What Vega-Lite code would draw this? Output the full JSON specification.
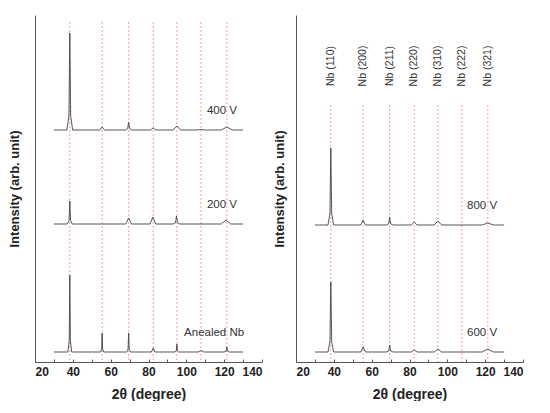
{
  "$schema": "https://vega.github.io/schema/vega-lite/v6.json",
  "padding": {"left": 8, "top": 15, "right": 0, "bottom": 0},
  "spacing": 10,
  "config": {
    "view": {"stroke": null},
    "font": "Liberation Sans",
    "axis": {"grid": false, "domainColor": "#555", "labelColor": "#222", "titleColor": "#222", "minExtent": 0}
  },
  "datasets": {
    "left": [
      {"s": "400 V", "x": 30, "y": 232}, {"s": "400 V", "x": 36.9, "y": 232}, {"s": "400 V", "x": 37.95, "y": 246.5}, {"s": "400 V", "x": 38.4, "y": 329}, {"s": "400 V", "x": 38.85, "y": 246.5}, {"s": "400 V", "x": 39.9, "y": 232},
      {"s": "400 V", "x": 54.3, "y": 232}, {"s": "400 V", "x": 55.5, "y": 235}, {"s": "400 V", "x": 56.7, "y": 232},
      {"s": "400 V", "x": 67.7, "y": 232}, {"s": "400 V", "x": 68.96, "y": 233.2}, {"s": "400 V", "x": 69.5, "y": 240}, {"s": "400 V", "x": 70.04, "y": 233.2}, {"s": "400 V", "x": 71.3, "y": 232},
      {"s": "400 V", "x": 81, "y": 232}, {"s": "400 V", "x": 82.5, "y": 234}, {"s": "400 V", "x": 84, "y": 232},
      {"s": "400 V", "x": 93, "y": 232}, {"s": "400 V", "x": 95, "y": 236}, {"s": "400 V", "x": 97, "y": 232},
      {"s": "400 V", "x": 106, "y": 232}, {"s": "400 V", "x": 107.7, "y": 232.6}, {"s": "400 V", "x": 109.4, "y": 232},
      {"s": "400 V", "x": 118.4, "y": 232}, {"s": "400 V", "x": 121.4, "y": 235}, {"s": "400 V", "x": 124.4, "y": 232}, {"s": "400 V", "x": 130, "y": 232},

      {"s": "200 V", "x": 30, "y": 138}, {"s": "200 V", "x": 37.1, "y": 138}, {"s": "200 V", "x": 38.0, "y": 141.5}, {"s": "200 V", "x": 38.4, "y": 161}, {"s": "200 V", "x": 38.8, "y": 141.5}, {"s": "200 V", "x": 39.7, "y": 138},
      {"s": "200 V", "x": 68, "y": 138}, {"s": "200 V", "x": 69.5, "y": 144}, {"s": "200 V", "x": 71, "y": 138},
      {"s": "200 V", "x": 80.8, "y": 138}, {"s": "200 V", "x": 82.3, "y": 145}, {"s": "200 V", "x": 83.8, "y": 138},
      {"s": "200 V", "x": 93, "y": 138}, {"s": "200 V", "x": 94.26, "y": 139.2}, {"s": "200 V", "x": 94.8, "y": 146}, {"s": "200 V", "x": 95.34, "y": 139.2}, {"s": "200 V", "x": 96.6, "y": 138},
      {"s": "200 V", "x": 118.5, "y": 138}, {"s": "200 V", "x": 121, "y": 142}, {"s": "200 V", "x": 123.5, "y": 138}, {"s": "200 V", "x": 130, "y": 138},

      {"s": "Anealed Nb", "x": 30, "y": 10}, {"s": "Anealed Nb", "x": 37.4, "y": 10}, {"s": "Anealed Nb", "x": 38.1, "y": 21.5}, {"s": "Anealed Nb", "x": 38.4, "y": 87}, {"s": "Anealed Nb", "x": 38.7, "y": 21.5}, {"s": "Anealed Nb", "x": 39.4, "y": 10},
      {"s": "Anealed Nb", "x": 54.7, "y": 10}, {"s": "Anealed Nb", "x": 55.26, "y": 12.9}, {"s": "Anealed Nb", "x": 55.5, "y": 29}, {"s": "Anealed Nb", "x": 55.74, "y": 12.9}, {"s": "Anealed Nb", "x": 56.3, "y": 10},
      {"s": "Anealed Nb", "x": 68.5, "y": 10}, {"s": "Anealed Nb", "x": 69.2, "y": 12.9}, {"s": "Anealed Nb", "x": 69.5, "y": 29}, {"s": "Anealed Nb", "x": 69.8, "y": 12.9}, {"s": "Anealed Nb", "x": 70.5, "y": 10},
      {"s": "Anealed Nb", "x": 81.5, "y": 10}, {"s": "Anealed Nb", "x": 82.5, "y": 14}, {"s": "Anealed Nb", "x": 83.5, "y": 10},
      {"s": "Anealed Nb", "x": 94, "y": 10}, {"s": "Anealed Nb", "x": 94.7, "y": 11.2}, {"s": "Anealed Nb", "x": 95, "y": 18}, {"s": "Anealed Nb", "x": 95.3, "y": 11.2}, {"s": "Anealed Nb", "x": 96, "y": 10},
      {"s": "Anealed Nb", "x": 106.2, "y": 10}, {"s": "Anealed Nb", "x": 107.7, "y": 11.5}, {"s": "Anealed Nb", "x": 109.2, "y": 10},
      {"s": "Anealed Nb", "x": 119.9, "y": 10}, {"s": "Anealed Nb", "x": 120.95, "y": 10.75}, {"s": "Anealed Nb", "x": 121.4, "y": 15}, {"s": "Anealed Nb", "x": 121.85, "y": 10.75}, {"s": "Anealed Nb", "x": 122.9, "y": 10}, {"s": "Anealed Nb", "x": 130, "y": 10}
    ],
    "right": [
      {"s": "800 V", "x": 30, "y": 137}, {"s": "800 V", "x": 36.9, "y": 137}, {"s": "800 V", "x": 37.95, "y": 148.5}, {"s": "800 V", "x": 38.4, "y": 214}, {"s": "800 V", "x": 38.85, "y": 148.5}, {"s": "800 V", "x": 39.9, "y": 137},
      {"s": "800 V", "x": 54.3, "y": 137}, {"s": "800 V", "x": 55.5, "y": 142}, {"s": "800 V", "x": 56.7, "y": 137},
      {"s": "800 V", "x": 67.7, "y": 137}, {"s": "800 V", "x": 68.96, "y": 138.2}, {"s": "800 V", "x": 69.5, "y": 145}, {"s": "800 V", "x": 70.04, "y": 138.2}, {"s": "800 V", "x": 71.3, "y": 137},
      {"s": "800 V", "x": 81, "y": 137}, {"s": "800 V", "x": 82.5, "y": 140}, {"s": "800 V", "x": 84, "y": 137},
      {"s": "800 V", "x": 93, "y": 137}, {"s": "800 V", "x": 95, "y": 141}, {"s": "800 V", "x": 97, "y": 137},
      {"s": "800 V", "x": 118.4, "y": 137}, {"s": "800 V", "x": 121.4, "y": 139}, {"s": "800 V", "x": 124.4, "y": 137}, {"s": "800 V", "x": 130, "y": 137},

      {"s": "600 V", "x": 30, "y": 10}, {"s": "600 V", "x": 36.9, "y": 10}, {"s": "600 V", "x": 37.95, "y": 20.5}, {"s": "600 V", "x": 38.4, "y": 80}, {"s": "600 V", "x": 38.85, "y": 20.5}, {"s": "600 V", "x": 39.9, "y": 10},
      {"s": "600 V", "x": 54.3, "y": 10}, {"s": "600 V", "x": 55.5, "y": 15}, {"s": "600 V", "x": 56.7, "y": 10},
      {"s": "600 V", "x": 67.7, "y": 10}, {"s": "600 V", "x": 68.96, "y": 11}, {"s": "600 V", "x": 69.5, "y": 17}, {"s": "600 V", "x": 70.04, "y": 11}, {"s": "600 V", "x": 71.3, "y": 10},
      {"s": "600 V", "x": 81, "y": 10}, {"s": "600 V", "x": 82.5, "y": 12}, {"s": "600 V", "x": 84, "y": 10},
      {"s": "600 V", "x": 93, "y": 10}, {"s": "600 V", "x": 95, "y": 13}, {"s": "600 V", "x": 97, "y": 10},
      {"s": "600 V", "x": 118.4, "y": 10}, {"s": "600 V", "x": 121.4, "y": 13}, {"s": "600 V", "x": 124.4, "y": 10}, {"s": "600 V", "x": 130, "y": 10}
    ],
    "peaks": [
      {"x": 38.4, "hkl": "Nb (110)"},
      {"x": 55.5, "hkl": "Nb (200)"},
      {"x": 69.5, "hkl": "Nb (211)"},
      {"x": 82.5, "hkl": "Nb (220)"},
      {"x": 95.0, "hkl": "Nb (310)"},
      {"x": 107.7, "hkl": "Nb (222)"},
      {"x": 121.4, "hkl": "Nb (321)"}
    ],
    "labelsLeft": [
      {"s": "400 V", "x": 110.9, "base": 232},
      {"s": "200 V", "x": 110.9, "base": 138},
      {"s": "Anealed Nb", "x": 98.8, "base": 10}
    ],
    "labelsRight": [
      {"s": "800 V", "x": 110.4, "base": 137},
      {"s": "600 V", "x": 110.4, "base": 10}
    ]
  },
  "hconcat": [
    {
      "width": 227,
      "height": 347,
      "encoding": {
        "x": {
          "type": "quantitative",
          "scale": {"domain": [20, 140], "nice": false},
          "axis": {
            "values": [20, 30, 40, 50, 60, 70, 80, 90, 100, 110, 120, 130, 140],
            "labelExpr": "datum.value % 20 == 0 ? datum.label : ''",
            "tickSize": -3, "tickColor": "#555", "labelPadding": 7,
            "labelFontSize": 12, "labelFontWeight": "bold",
            "title": "2θ (degree)", "titleFontSize": 14, "titleFontWeight": "bold", "titlePadding": 10
          }
        },
        "y": {
          "type": "quantitative",
          "scale": {"domain": [0, 347], "nice": false},
          "axis": {
            "labels": false, "ticks": false,
            "title": "Intensity (arb. unit)", "titleFontSize": 13, "titleFontWeight": "bold", "titlePadding": 14
          }
        }
      },
      "layer": [
        {
          "data": {"name": "peaks"},
          "mark": {"type": "rule", "color": "#f08a8a", "strokeDash": [2, 2], "strokeWidth": 0.8},
          "encoding": {"x": {"field": "x"}, "y": {"datum": 340}, "y2": {"datum": 0}}
        },
        {
          "data": {"name": "left"},
          "mark": {"type": "line", "color": "#444", "strokeWidth": 0.9},
          "encoding": {"x": {"field": "x"}, "y": {"field": "y"}, "detail": {"field": "s"}}
        },
        {
          "data": {"name": "labelsLeft"},
          "mark": {"type": "text", "align": "left", "dy": -19, "fontSize": 11.5, "color": "#333"},
          "encoding": {"x": {"field": "x"}, "y": {"field": "base"}, "text": {"field": "s"}}
        }
      ]
    },
    {
      "width": 227,
      "height": 347,
      "encoding": {
        "x": {
          "type": "quantitative",
          "scale": {"domain": [20, 140], "nice": false},
          "axis": {
            "values": [20, 30, 40, 50, 60, 70, 80, 90, 100, 110, 120, 130, 140],
            "labelExpr": "datum.value % 20 == 0 ? datum.label : ''",
            "tickSize": -3, "tickColor": "#555", "labelPadding": 7,
            "labelFontSize": 12, "labelFontWeight": "bold",
            "title": "2θ (degree)", "titleFontSize": 14, "titleFontWeight": "bold", "titlePadding": 10
          }
        },
        "y": {
          "type": "quantitative",
          "scale": {"domain": [0, 347], "nice": false},
          "axis": {
            "labels": false, "ticks": false,
            "title": "Intensity (arb. unit)", "titleFontSize": 13, "titleFontWeight": "bold", "titlePadding": 10
          }
        }
      },
      "layer": [
        {
          "data": {"name": "peaks"},
          "mark": {"type": "rule", "color": "#f08a8a", "strokeDash": [2, 2], "strokeWidth": 0.8},
          "encoding": {"x": {"field": "x"}, "y": {"datum": 257}, "y2": {"datum": 0}}
        },
        {
          "data": {"name": "peaks"},
          "mark": {"type": "text", "angle": 270, "align": "center", "baseline": "middle", "fontSize": 10.5, "color": "#333"},
          "encoding": {"x": {"field": "x"}, "y": {"datum": 296}, "text": {"field": "hkl"}}
        },
        {
          "data": {"name": "right"},
          "mark": {"type": "line", "color": "#444", "strokeWidth": 0.9},
          "encoding": {"x": {"field": "x"}, "y": {"field": "y"}, "detail": {"field": "s"}}
        },
        {
          "data": {"name": "labelsRight"},
          "mark": {"type": "text", "align": "left", "dy": -19, "fontSize": 11.5, "color": "#333"},
          "encoding": {"x": {"field": "x"}, "y": {"field": "base"}, "text": {"field": "s"}}
        }
      ]
    }
  ]
}
